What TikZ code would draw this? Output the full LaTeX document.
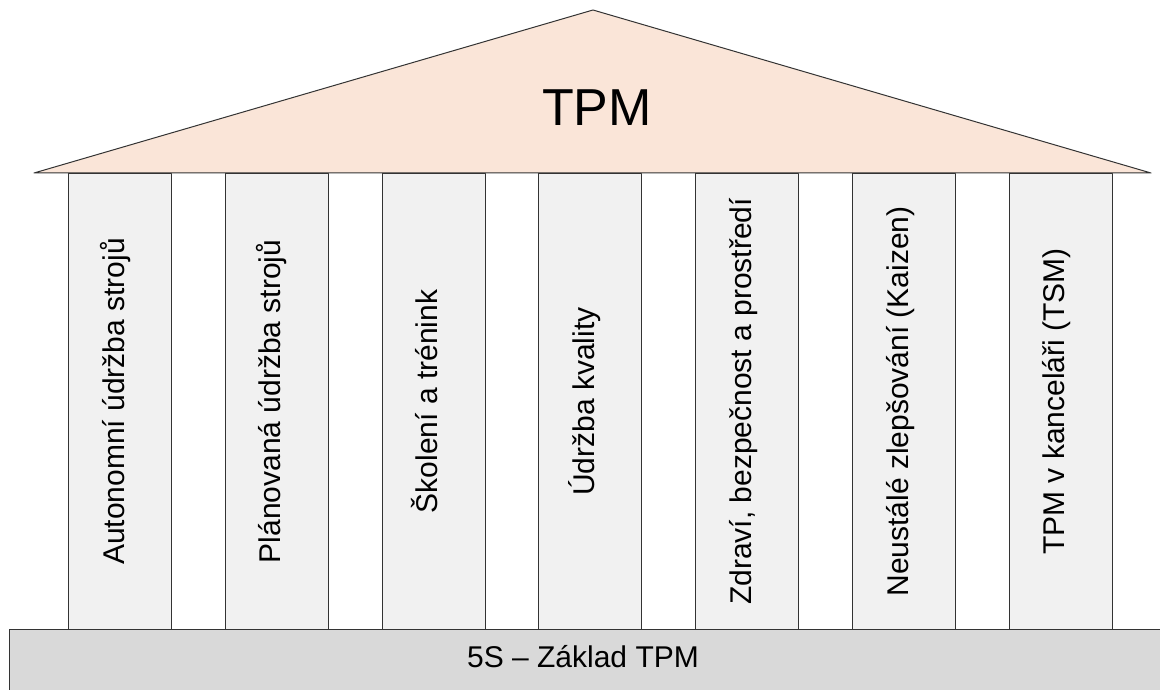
\documentclass[tikz,border=0pt]{standalone}
\usepackage{fontspec}
\setmainfont{Liberation Sans}
\definecolor{roofcol}{HTML}{FAE5D8}
\definecolor{pillarcol}{HTML}{F1F1F1}
\definecolor{basecol}{HTML}{D9D9D9}
\definecolor{edgecol}{HTML}{333333}
\begin{document}
\begin{tikzpicture}[x=1pt,y=-1pt,line join=round,line width=1pt,font=\fontsize{30}{36}\selectfont,
	pillarbox/.style={draw=edgecol,fill=pillarcol,minimum width=103pt,minimum height=456pt,inner sep=0pt,anchor=north west},
	basebox/.style={draw=edgecol,fill=basecol,minimum width=1170pt,minimum height=75pt,inner sep=0pt,anchor=north west}]
			\useasboundingbox (0,0) rectangle (1160,690);
			\coordinate (L) at (34,173);
			\coordinate (A) at (593,10);
			\coordinate (R) at (1151,173);
			\filldraw[draw=edgecol,fill=roofcol] (L)--(A)--(R)--cycle;
			\node (tpm) at (597,108) {\fontsize{52}{60}\selectfont TPM};
			\foreach \i/\txt in {1/Autonomní údržba strojů,2/Plánovaná údržba strojů,3/Školení a trénink,4/Údržba kvality,5/{Zdraví, bezpečnost a prostředí},6/Neustálé zlepšování (Kaizen),7/TPM v kanceláři (TSM)}{
				\node[pillarbox] (p\i) at ({68+156.83*(\i-1)},173) {};
				\node[rotate=90,anchor=base] (t\i) at ([xshift=4pt]p\i.center) {\txt};
			}
			\node[basebox] (base) at (9,629) {};
			\node (basetxt) at (583,657) {5S – Základ TPM};
		\end{tikzpicture}
\end{document}
